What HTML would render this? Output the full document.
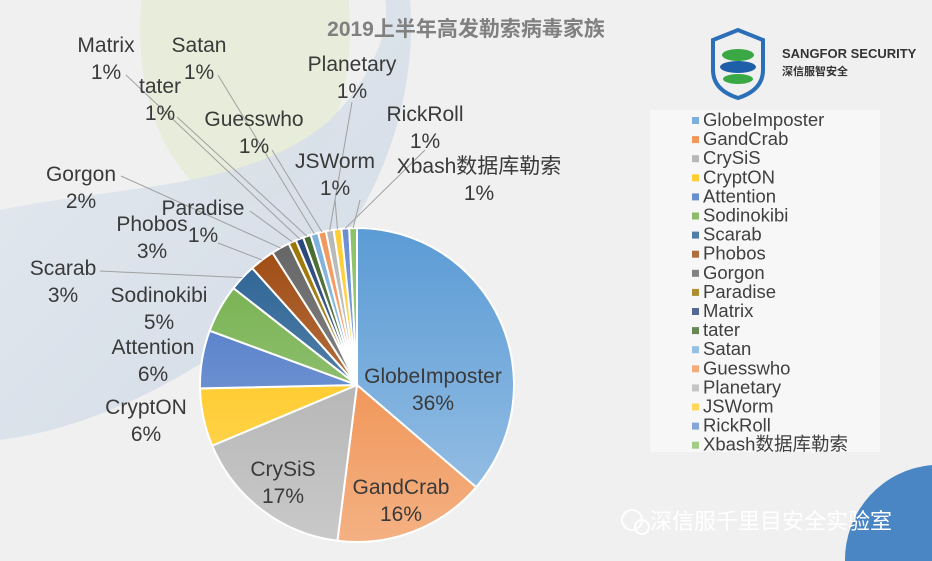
<!DOCTYPE html>
<html><head><meta charset="utf-8"><style>
html,body{margin:0;width:932px;height:561px;overflow:hidden;background:#f0f0f0;font-family:"Liberation Sans","Noto Sans CJK SC",sans-serif;}
svg{display:block;overflow:hidden}
</style></head><body>
<svg width="932" height="561" viewBox="0 0 932 561" id="chart">
<defs id="defs">
<linearGradient id="bgBlue" x1="0" y1="0" x2="1" y2="1"><stop offset="0" stop-color="#e2e9ef"/><stop offset="1" stop-color="#cfd8e5"/></linearGradient>
</defs>
<rect width="932" height="561" fill="#f0f0f0"/>
<ellipse cx="245" cy="30" rx="105" ry="175" fill="#e8ecda"/>
<path d="M0,210 C120,185 250,190 330,120 C380,70 390,20 385,0 L410,0 C420,120 360,260 250,330 C170,390 80,430 0,440 Z" fill="url(#bgBlue)" opacity="0.9"/>
<path d="M932,465 A95,95 0 0 0 845,561 L932,561 Z" fill="#4a86c3"/>
<text x="466" y="36" text-anchor="middle" font-size="21" font-weight="bold" fill="#808080">2019上半年高发勒索病毒家族</text>
<g>
<path d="M713,40 L738,30 L763,40 L763,70 Q763,90 738,98 Q713,90 713,70 Z" fill="none" stroke="#2a6fb8" stroke-width="4"/>
<ellipse cx="738" cy="55" rx="16" ry="6" fill="#3aa844"/>
<ellipse cx="738" cy="67" rx="18" ry="6" fill="#1f5ea8"/>
<ellipse cx="738" cy="79" rx="15" ry="5" fill="#3aa844"/>
<text x="782" y="58" font-size="13" font-weight="bold" fill="#333">SANGFOR SECURITY</text>
<text x="782" y="75" font-size="11" font-weight="bold" fill="#333">深信服智安全</text>
</g>
<g id="slices"></g>
<g id="leaders"></g>
<g id="labels"></g>
<rect x="650" y="110" width="230" height="342" fill="#f7f7f7"/>
<g id="legend"></g>
<g>
<circle cx="632" cy="520" r="10" fill="none" stroke="#fff" stroke-width="2"/>
<circle cx="642" cy="527" r="7" fill="none" stroke="#fff" stroke-width="2"/>
<text x="650" y="529" font-size="22" fill="#ffffff">深信服千里目安全实验室</text>
</g>
</svg>
<script>
const categories=["GlobeImposter","GandCrab","CrySiS","CryptON","Attention","Sodinokibi","Scarab","Phobos","Gorgon","Paradise","Matrix","tater","Satan","Guesswho","Planetary","JSWorm","RickRoll","Xbash数据库勒索"];
const values=[36.5,15.8,16.8,6,6,5,2.8,2.6,1.9,0.8,0.8,0.8,0.8,0.8,0.8,0.8,0.8,0.8];
const pctLabels=["36%","16%","17%","6%","6%","5%","3%","3%","2%","1%","1%","1%","1%","1%","1%","1%","1%","1%"];
const colors=["#5b9bd5","#ed7d31","#a5a5a5","#ffc000","#4472c4","#70ad47","#255e91","#9e480e","#636363","#997300","#264478","#43682b","#7cafdd","#f1975a","#b7b7b7","#ffcd33","#698ed0","#8cc168"];
const labelPos=[[433,376,null],[401,487,null],[283,469,null],[146,407,null],[153,347,null],[159,295,null],[63,268,[100,271]],[152,224,[218,243]],[81,174,[121,176]],[203,208,[250,211]],[106,45,[126,75]],[160,86,[177,117]],[199,45,[218,75]],[254,119,[272,150]],[352,64,[352,102]],[335,161,[335,199]],[425,114,[425,150]],[479,166,[360,200]]];
const cx=357,cy=385,R=157;
const total=values.reduce((a,b)=>a+b,0);
const ang=v=>v/total*2*Math.PI;
const pt=(a,r)=>[cx+r*Math.sin(a),cy-r*Math.cos(a)];
const NS="http://www.w3.org/2000/svg";
const lighten=(h,f)=>{const n=parseInt(h.slice(1),16);const c=[n>>16,(n>>8)&255,n&255].map(x=>Math.round(x+(255-x)*f));return 'rgb('+c.join(',')+')';};
const defs=document.getElementById('defs');
const gS=document.getElementById('slices'),gL=document.getElementById('leaders'),gT=document.getElementById('labels'),gG=document.getElementById('legend');
let a0=0;
values.forEach((v,i)=>{
  const a1=a0+ang(v);
  const p0=pt(a0,R),p1=pt(a1,R);
  const g=document.createElementNS(NS,'linearGradient');
  g.id='sg'+i;g.setAttribute('gradientUnits','userSpaceOnUse');
  g.setAttribute('x1',cx);g.setAttribute('y1',cy-R);g.setAttribute('x2',cx);g.setAttribute('y2',cy+R);
  g.innerHTML=`<stop offset="0" stop-color="${colors[i]}"/><stop offset="1" stop-color="${lighten(colors[i],0.4)}"/>`;
  defs.appendChild(g);
  const path=document.createElementNS(NS,'path');
  path.setAttribute('d',`M${cx},${cy} L${p0[0]},${p0[1]} A${R},${R} 0 ${a1-a0>Math.PI?1:0} 1 ${p1[0]},${p1[1]} Z`);
  path.setAttribute('fill','url(#sg'+i+')');path.setAttribute('stroke','#fff');path.setAttribute('stroke-width','2');
  
  
  gS.appendChild(path);
  const lp=labelPos[i];
  if(lp[2]){
    const m=pt((a0+a1)/2,R);
    const ln=document.createElementNS(NS,'polyline');
    ln.setAttribute('points',`${lp[2][0]},${lp[2][1]} ${m[0]},${m[1]}`);
    ln.setAttribute('fill','none');ln.setAttribute('stroke','#a0a0a0');ln.setAttribute('stroke-width','1');
    
    
    gL.appendChild(ln);
  }
  [[categories[i],lp[1]+7],[pctLabels[i],lp[1]+34]].forEach((t,k)=>{
    const tx=document.createElementNS(NS,'text');
    tx.setAttribute('x',lp[0]);tx.setAttribute('y',t[1]);tx.setAttribute('text-anchor','middle');
    tx.setAttribute('font-size','21');tx.setAttribute('fill','#3a3a3a');
    tx.textContent=t[0];
    
    
    gT.appendChild(tx);
  });
  const ly=120+i*19.1;
  const r=document.createElementNS(NS,'rect');
  r.setAttribute('x',692);r.setAttribute('y',ly-3);r.setAttribute('width',7);r.setAttribute('height',7);r.setAttribute('fill',lighten(colors[i],0.2));
  
  
  gG.appendChild(r);
  const lt=document.createElementNS(NS,'text');
  lt.setAttribute('x',703);lt.setAttribute('y',ly+6);lt.setAttribute('font-size','18.5');lt.setAttribute('fill','#404040');
  lt.textContent=categories[i];
  
  
  gG.appendChild(lt);
  a0=a1;
});
</script>
</body></html>
